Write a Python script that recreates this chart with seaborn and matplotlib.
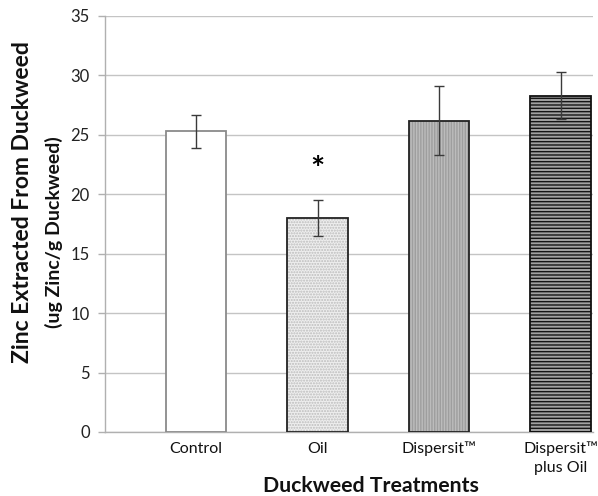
import matplotlib
matplotlib.use("Agg")
import matplotlib.pyplot as plt
import seaborn as sns
import pandas as pd
from matplotlib.colors import to_rgba

categories = ["Control", "Oil", "Dispersit\u2122", "Dispersit\u2122\nplus Oil"]
means = [25.3, 18.0, 26.2, 28.3]
errors = [1.4, 1.5, 2.9, 2.0]
yticks = [0, 5, 10, 15, 20, 25, 30, 35]

sns.set_theme(style="white")
plt.rcParams['font.family'] = ['Lato', 'DejaVu Sans']
plt.rcParams['hatch.linewidth'] = 1.0

df = pd.DataFrame({"Treatment": categories, "Zinc": means})

fig = plt.figure(figsize=(5.98, 4.96), dpi=100)
ax = fig.add_axes([105/598, 64/496, (593-105)/598, (432-16)/496])

sns.barplot(data=df, x="Treatment", y="Zinc", order=categories, errorbar=None,
            width=0.5, ax=ax, zorder=3)

faces = ["white", "#eeeeee", "#bcbcbc", "#a2a2a2"]
edges = ["#8a8a8a", "#222222", "#222222", "#111111"]
hatches = [None, "......", "||||||", "-----"]
hatch_cols = [None, "#bcbcbc", "#9e9e9e", "#151515"]
for bar, fc, ec, h, hc in zip(ax.patches, faces, edges, hatches, hatch_cols):
    bar.set_facecolor(fc)
    bar.set_edgecolor(ec)
    bar.set_linewidth(1.3)
    if h:
        bar.set_hatch(h)
        bar._hatch_color = to_rgba(hc)

ax.errorbar(x=list(range(len(categories))), y=means, yerr=errors, fmt="none",
            ecolor="#3a3a3a", elinewidth=1.0, capsize=3.5, capthick=1.0, zorder=4)

ax.text(1, 22.0, "*", ha="center", va="center", fontsize=24, fontweight="bold",
        color="#000000")

ax.set_ylim(0, 35)
ax.set_xlim(-0.749, (593-196)/121.5)
ax.set_yticks(yticks)
ax.set_yticklabels([str(t) for t in yticks], fontsize=12, color="#222222")
ax.tick_params(axis="y", length=5, width=1, color="#b0b0b0", pad=6, left=True)
ax.tick_params(axis="x", length=0, pad=7, labelsize=11.5, labelcolor="#111111")
for lbl in ax.get_xticklabels():
    lbl.set_linespacing(1.4)
ax.yaxis.grid(True, color="#c4c4c4", linewidth=1.0, zorder=0)
ax.set_axisbelow(True)
for s in ["top", "right"]:
    ax.spines[s].set_visible(False)
ax.spines["left"].set_color("#b0b0b0")
ax.spines["bottom"].set_color("#b0b0b0")
ax.spines["left"].set_linewidth(1.0)
ax.spines["bottom"].set_linewidth(1.0)
ax.set_xlabel("")
ax.set_ylabel("")

fig.text(23/598, 1 - 202/496, "Zinc Extracted From Duckweed", rotation=90,
         ha="center", va="center", fontsize=16.5, fontweight="bold", color="#111111")
fig.text(54/598, 1 - 232/496, "(ug Zinc/g Duckweed)", rotation=90,
         ha="center", va="center", fontsize=14, fontweight="bold", color="#111111")
fig.text(371/598, 1 - 486/496, "Duckweed Treatments", ha="center", va="center",
         fontsize=15.3, fontweight="bold", color="#111111")

fig.savefig("out.png", dpi=100, facecolor="white")
